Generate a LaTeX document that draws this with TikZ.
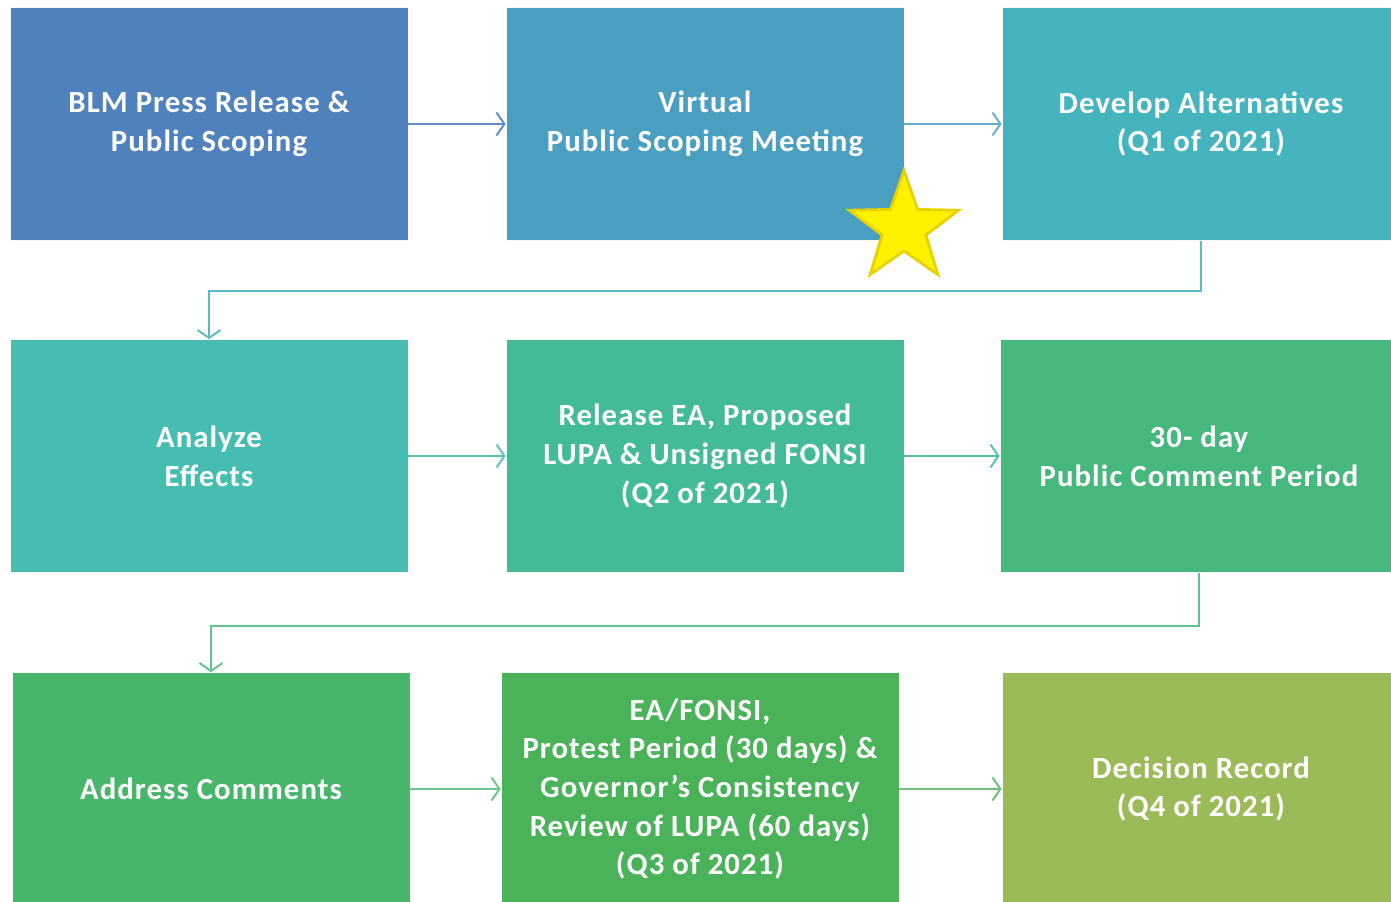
\documentclass[tikz,border=0pt]{standalone}
\usepackage{fontspec}
\setmainfont{Carlito}[LetterSpace=3.5]
\usetikzlibrary{arrows.meta,shapes.geometric}

\definecolor{cBLM}{HTML}{4F81BD}
\definecolor{cVirtual}{HTML}{4A9FC1}
\definecolor{cDevelop}{HTML}{45B4BE}
\definecolor{cAnalyze}{HTML}{45BDB0}
\definecolor{cRelease}{HTML}{44BB98}
\definecolor{cComment}{HTML}{46B77D}
\definecolor{cAddress}{HTML}{47B66B}
\definecolor{cProtest}{HTML}{4AB35A}
\definecolor{cDecision}{HTML}{9BBB59}
\definecolor{cGold}{HTML}{E6D200}

\tikzset{
  stage/.style={rectangle, draw=white!70!black!10, line width=0.4pt, text=white,
    minimum width=7.96cm, minimum height=4.66cm, inner sep=0pt, align=center,
    font=\fontsize{17.5}{22}\selectfont\bfseries},
  flow/.style={line width=1.1pt, -{Straight Barb[length=0.16cm,width=0.46cm,line width=1.1pt]}}
}

\begin{document}
\begin{tikzpicture}
	\useasboundingbox (0,0) rectangle (27.82,-18.04);
	\clip (0,0) rectangle (27.82,-18.04);
	\node (BLM)      at ( 4.18,  -2.48)	[stage, fill = cBLM]		{BLM Press Release \&\\Public Scoping};
	\node (Virtual)  at (14.10,  -2.48)	[stage, fill = cVirtual]	{Virtual\\Public Scoping Meeting};
	\node (Develop)  at (24.02,  -2.48)	[stage, fill = cDevelop]	{Develop Alternatives\\(Q1 of 2021)};
	\node (Analyze)  at ( 4.18,  -9.12)	[stage, fill = cAnalyze]	{Analyze\\Effects};
	\node (Release)  at (14.10,  -9.12)	[stage, fill = cRelease]	{Release EA, Proposed\\LUPA \& Unsigned FONSI\\(Q2 of 2021)};
	\node (Comment)  at (23.98,  -9.12)	[stage, fill = cComment]	{30- day\\Public Comment Period};
	\node (Address)  at ( 4.22, -15.78)	[stage, fill = cAddress]	{Address Comments};
	\node (Protest)  at (14.00, -15.78)	[stage, fill = cProtest]	{EA/FONSI,\\Protest Period (30 days) \&\\Governor’s Consistency\\Review of LUPA (60 days)\\(Q3 of 2021)};
	\node (Decision) at (24.02, -15.78)	[stage, fill = cDecision]	{Decision Record\\(Q4 of 2021)};
	\node (Star)     at (18.08,  -4.56)	[star, star points=5, star point ratio=2.5, minimum size=2.3cm, inner sep=0pt, fill=yellow, draw=cGold, line width=1.6pt] {};
	\draw[flow, draw=cBLM!90]		(BLM) -- (Virtual);
	\draw[flow, draw=cVirtual!85]	(Virtual) -- (Develop);
	\draw[flow, draw=cDevelop!90]	(Develop.south) -- ++(0,-1.0) -| (Analyze.north);
	\draw[flow, draw=cAnalyze!90]	(Analyze) -- (Release);
	\draw[flow, draw=cRelease!90]	(Release) -- (Comment);
	\draw[flow, draw=cComment!85]	(Comment.south) -- ++(0,-1.06) -| (Address.north);
	\draw[flow, draw=cAddress!80]	(Address) -- (Protest);
	\draw[flow, draw=cProtest!80]	(Protest) -- (Decision);
\end{tikzpicture}
\end{document}
